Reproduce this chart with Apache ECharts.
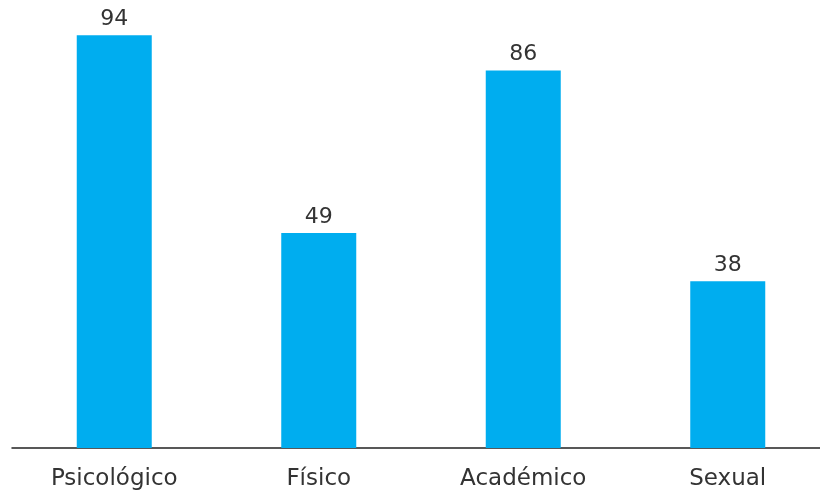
<!DOCTYPE html>
<html><head><meta charset="utf-8">
<script src="https://cdn.jsdelivr.net/npm/echarts@6/dist/echarts.min.js"></script>
<style>html,body{margin:0;padding:0;background:#fff;overflow:hidden}#c{width:832px;height:495px}</style>
</head><body><div id="c"></div>
<script>
const categories = ['Psicológico', 'Físico', 'Académico', 'Sexual'];
const values = [94, 49, 86, 38];
const chart = echarts.init(document.getElementById('c'), null, {renderer: 'canvas'});
chart.setOption({
  animation: false,
  backgroundColor: '#ffffff',
  grid: {left: 12, right: 2, top: 9, bottom: 47, containLabel: false},
  xAxis: {
    type: 'category', data: categories,
    axisLine: {show: true, lineStyle: {color: '#222', width: 1.5}},
    axisTick: {show: false},
    axisLabel: {color: '#333', fontFamily: 'DejaVu Sans', fontSize: 23, margin: 20}
  },
  yAxis: {type: 'value', min: 0, max: 100, show: false, splitLine: {show: false}},
  series: [{
    type: 'bar', data: values, barWidth: 75,
    itemStyle: {color: '#00adef'},
    label: {show: true, position: 'top', distance: 5, color: '#333', fontFamily: 'DejaVu Sans', fontSize: 22}
  }]
});
</script></body></html>
